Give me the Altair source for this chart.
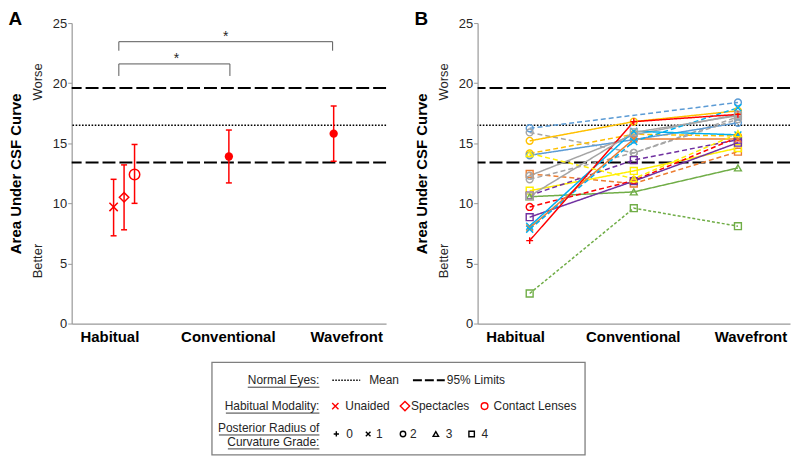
import altair as alt
import pandas as pd

FONT = "Liberation Sans"
RED = "#FF0000"
XPATH = "M-1,-1L1,1M-1,1L1,-1"
PLUSPATH = "M-1,0L1,0M0,-1L0,1"

# ---------------- shared ----------------
categories = ["Habitual", "Conventional", "Wavefront"]
cat_pos = [1, 2, 3]
label_pos = [0.86, 1.99, 3.12]
y_ticks = [0, 5, 10, 15, 20, 25]

ref_values = [19.6, 16.5, 13.4]
ref_kind = ["limit", "mean", "limit"]

side_text = ["Worse", "Better"]
side_y = [20.1, 5.2]

# ---------------- panel A ----------------
a_group = ["Unaided", "Spectacles", "Contact Lenses", "Conventional", "Wavefront"]
a_x = [0.9, 1.0, 1.1, 2.0, 3.0]
a_mean = [9.7, 10.5, 12.4, 13.9, 15.8]
a_low = [7.3, 7.8, 10.0, 11.7, 13.5]
a_high = [12.0, 13.2, 14.9, 16.1, 18.1]

bracket_id = [1, 1, 1, 1, 2, 2, 2, 2]
bracket_x = [0.95, 0.95, 2.01, 2.01, 0.95, 0.95, 2.99, 2.99]
bracket_y = [20.6, 21.6, 21.6, 20.6, 22.7, 23.45, 23.45, 22.7]
star_x = [1.5, 1.97]
star_y = [22.0, 23.85]

# ---------------- panel B (one entry per eye) ----------------
s_color = ["#5B9BD5", "#A5A5A5", "#FFC000", "#FFC000", "#5B9BD5", "#ED7D31", "#A5A5A5",
           "#A5A5A5", "#FFEF00", "#7030A0", "#70AD47", "#FF0000", "#7030A0", "#00B0F0",
           "#ED7D31", "#00B0F0", "#FF0000", "#70AD47", "#FFEF00", "#A5A5A5"]
s_dash = ["dashed", "dashed", "solid", "dashed", "solid", "dashed", "solid",
          "dashed", "solid", "dashed", "solid", "dashed", "solid", "solid",
          "solid", "dashed", "solid", "fine", "dashed", "solid"]
s_grade = [2, 2, 2, 2, 2, 4, 2, 2, 4, 4, 3, 2, 4, 1, 1, 1, 0, 4, 3, 4]
s_hab = [16.25, 15.9, 15.2, 14.15, 14.0, 12.45, 12.3, 12.0, 11.05, 10.65,
         10.55, 9.7, 8.85, 8.1, 7.95, 7.85, 6.9, 2.5, 14.15, 10.6]
s_conv = [None, 14.2, 16.8, 15.75, 15.3, 11.65, 15.7, 14.2, 12.7, 13.6,
          10.95, 11.9, 11.85, 16.0, 15.35, 15.15, 16.8, 9.6, 12.05, 15.9]
s_wave = [18.4, 17.2, 17.7, 15.6, 16.7, 14.3, 17.4, 17.0, 14.6, 15.3,
          12.95, 15.5, 15.05, 15.7, 15.35, 17.95, 17.4, 8.1, 15.8, 17.3]

grades = ["0", "1", "2", "3", "4"]
grade_shapes = [PLUSPATH, XPATH, "circle", "triangle-up", "square"]

W_A, W_B, H = 316, 314, 302

label_expr = (f"datum.value < 1.5 ? '{categories[0]}' : "
              f"datum.value < 2.5 ? '{categories[1]}' : '{categories[2]}'")


def x_enc(field="x"):
    return alt.X(f"{field}:Q",
                 scale=alt.Scale(domain=[0.5, 3.5], nice=False, zero=False),
                 axis=alt.Axis(values=label_pos, labelExpr=label_expr, title=None,
                               ticks=False, grid=False, labelFont=FONT, labelFontSize=15,
                               labelFontWeight="bold", labelColor="black", labelPadding=6,
                               labelFlush=False, labelOverlap=False,
                               domainColor="#999999", domainWidth=1.2))


def y_enc(field="y"):
    return alt.Y(f"{field}:Q",
                 scale=alt.Scale(domain=[0, 25], nice=False, zero=True),
                 axis=alt.Axis(values=y_ticks, title="Area Under CSF Curve", grid=False,
                               labelFont=FONT, labelFontSize=13, labelColor="#262626",
                               labelPadding=1, tickSize=4, tickColor="#999999",
                               domainColor="#999999", domainWidth=1.2,
                               titleFont=FONT, titleFontSize=15, titleFontWeight="bold",
                               titleColor="black", titlePadding=29))


ref_df = pd.DataFrame({"y": ref_values, "kind": ref_kind})
side_df = pd.DataFrame({"t": side_text, "y": side_y})


def common_layers():
    limits = alt.Chart(ref_df[ref_df["kind"] == "limit"]).mark_rule(
        color="black", strokeWidth=2, strokeDash=[13, 4]).encode(y=y_enc())
    mean = alt.Chart(ref_df[ref_df["kind"] == "mean"]).mark_rule(
        color="black", strokeWidth=1.6, strokeDash=[1.6, 1.6]).encode(y=y_enc())
    side = alt.Chart(side_df).mark_text(
        font=FONT, fontSize=13, angle=270, align="center", baseline="middle",
        color="#262626").encode(x=alt.value(-34), y=y_enc(), text="t:N")
    return [limits, mean, side]


# ---------------- build panel A ----------------
a_df = pd.DataFrame(dict(group=a_group, x=a_x, y=a_mean, lo=a_low, hi=a_high))
err = alt.Chart(a_df).mark_rule(color=RED, strokeWidth=1.5).encode(
    x=x_enc(), y=y_enc("lo"), y2="hi")
cap_lo = alt.Chart(a_df).mark_point(shape="stroke", color=RED, size=36, strokeWidth=1.5,
                                    opacity=1).encode(x=x_enc(), y=y_enc("lo"))
cap_hi = alt.Chart(a_df).mark_point(shape="stroke", color=RED, size=36, strokeWidth=1.5,
                                    opacity=1).encode(x=x_enc(), y=y_enc("hi"))
hollow = alt.Chart(a_df.iloc[:3]).mark_point(filled=False, color=RED, strokeWidth=1.5,
                                              opacity=1).encode(
    x=x_enc(), y=y_enc(),
    shape=alt.Shape("group:N", scale=alt.Scale(domain=a_group[:3],
                                               range=[XPATH, "diamond", "circle"]), legend=None),
    size=alt.Size("group:N", scale=alt.Scale(domain=a_group[:3], range=[70, 110, 75]),
                  legend=None))
filled = alt.Chart(a_df.iloc[3:]).mark_circle(color=RED, size=70, opacity=1).encode(
    x=x_enc(), y=y_enc())

br_df = pd.DataFrame(dict(b=bracket_id, x=bracket_x, y=bracket_y, i=list(range(len(bracket_x)))))
brackets = alt.Chart(br_df).mark_line(color="#595959", strokeWidth=1).encode(
    x=x_enc(), y=y_enc(), detail="b:N", order="i:Q")
stars = alt.Chart(pd.DataFrame(dict(x=star_x, y=star_y))).mark_text(
    text="*", font=FONT, fontSize=14, color="#262626", baseline="middle").encode(
    x=x_enc(), y=y_enc())

panel_a = alt.layer(*common_layers(), brackets, stars, err, cap_lo, cap_hi, hollow, filled).properties(
    width=W_A, height=H,
    title=alt.Title("A", anchor="start", frame="bounds", font=FONT, fontSize=19,
                    fontWeight="bold", color="black", offset=-12))

# ---------------- build panel B ----------------
rows = []
for i in range(len(s_color)):
    for pos, vals in zip(cat_pos, [s_hab, s_conv, s_wave]):
        v = vals[i]
        if v is None:
            continue
        rows.append(dict(series=f"s{i + 1:02d}", x=pos, y=v, color=s_color[i],
                         dash=s_dash[i], grade=str(s_grade[i])))
b_df = pd.DataFrame(rows)

b_lines = alt.Chart(b_df).mark_line(strokeWidth=1.5).encode(
    x=x_enc(), y=y_enc(),
    color=alt.Color("color:N", scale=None),
    strokeDash=alt.StrokeDash("dash:N", scale=alt.Scale(domain=["solid", "dashed", "fine"],
                                                        range=[[1, 0], [5, 3], [3, 2]]),
                              legend=None),
    detail="series:N")
b_points = alt.Chart(b_df).mark_point(filled=False, strokeWidth=1.4, size=48, opacity=1).encode(
    x=x_enc(), y=y_enc(),
    color=alt.Color("color:N", scale=None),
    shape=alt.Shape("grade:N", scale=alt.Scale(domain=grades, range=grade_shapes), legend=None))

panel_b = alt.layer(*common_layers(), b_lines, b_points).properties(
    width=W_B, height=H,
    title=alt.Title("B", anchor="start", frame="bounds", font=FONT, fontSize=19,
                    fontWeight="bold", color="black", offset=-12))

# ---------------- custom key ----------------
# positions inside the key box (pixels from the box's top-left corner)
BX, BY, BW, BH = 141, 1, 375, 93
LEG_W, LEG_H = 520, 95

head_text = ["Normal Eyes:", "Habitual Modality:", "Posterior Radius of", "Curvature Grade:"]
head_right = [108, 108, 108, 108]
head_y = [18, 44, 66, 80]
head_left = [36, 14, 7, 16]

item_text = ["Mean", "95% Limits", "Unaided", "Spectacles", "Contact Lenses",
             "0", "1", "2", "3", "4"]
item_x = [158, 236, 134, 200, 283, 135, 165, 199, 235, 271]
item_y = [18, 18, 44, 44, 44, 72, 72, 72, 72, 72]

sym_shape = [XPATH, "diamond", "circle", PLUSPATH, XPATH, "circle", "triangle-up", "square"]
sym_x = [124, 194, 274, 125, 157, 192, 225, 261]
sym_y = [44, 44, 44, 72, 72, 72, 72, 72]
sym_color = [RED, RED, RED, "black", "black", "black", "black", "black"]
sym_size = [40, 90, 45, 28, 22, 30, 30, 30]

key_line_x = [121, 202]
key_line_x2 = [149, 234]
key_line_kind = ["mean", "limit"]

heads = pd.DataFrame(dict(t=head_text, x=[BX + v for v in head_right], y=[BY + v for v in head_y]))
unders = pd.DataFrame(dict(x=[BX + v for v in head_left], x2=[BX + v for v in head_right],
                           y=[BY + v + 7 for v in head_y]))
items = pd.DataFrame(dict(t=item_text, x=[BX + v for v in item_x], y=[BY + v for v in item_y]))
syms = pd.DataFrame(dict(s=sym_shape, x=[BX + v for v in sym_x], y=[BY + v for v in sym_y],
                         c=sym_color, z=sym_size))
klines = pd.DataFrame(dict(x=[BX + v for v in key_line_x], x2=[BX + v for v in key_line_x2],
                           y=[BY + 18] * 2, kind=key_line_kind))

px = lambda f: alt.X(f"{f}:Q", scale=None, axis=None)
py = lambda f: alt.Y(f"{f}:Q", scale=None, axis=None)

box = alt.Chart(pd.DataFrame({"a": [0]})).mark_rect(
    fill="transparent", stroke="#7f7f7f", strokeWidth=1.3).encode(
    x=alt.value(BX), x2=alt.value(BX + BW), y=alt.value(BY), y2=alt.value(BY + BH))
head_l = alt.Chart(heads).mark_text(font=FONT, fontSize=12, align="right", baseline="middle",
                                    color="#262626").encode(x=px("x"), y=py("y"), text="t:N")
under_l = alt.Chart(unders).mark_rule(color="#262626", strokeWidth=0.9).encode(
    x=px("x"), x2="x2:Q", y=py("y"))
item_l = alt.Chart(items).mark_text(font=FONT, fontSize=12, align="left", baseline="middle",
                                    color="#262626").encode(x=px("x"), y=py("y"), text="t:N")
sym_l = alt.Chart(syms).mark_point(filled=False, strokeWidth=1.4, opacity=1).encode(
    x=px("x"), y=py("y"), shape=alt.Shape("s:N", scale=None),
    color=alt.Color("c:N", scale=None), size=alt.Size("z:Q", scale=None))
kmean = alt.Chart(klines[klines["kind"] == "mean"]).mark_rule(
    color="black", strokeWidth=1.3, strokeDash=[1.5, 1.5]).encode(x=px("x"), x2="x2:Q", y=py("y"))
klim = alt.Chart(klines[klines["kind"] == "limit"]).mark_rule(
    color="black", strokeWidth=1.8, strokeDash=[9, 3]).encode(x=px("x"), x2="x2:Q", y=py("y"))

key = alt.layer(box, head_l, under_l, item_l, sym_l, kmean, klim).properties(
    width=LEG_W, height=LEG_H)

top = alt.hconcat(panel_a, panel_b, spacing=26).resolve_scale(
    shape="independent", size="independent", color="independent", strokeDash="independent")

chart = alt.vconcat(top, key, spacing=15).resolve_scale(
    shape="independent", size="independent", color="independent", strokeDash="independent"
).properties(padding=0).configure(font=FONT).configure_view(stroke="transparent")

chart.save("out.html", embed_options={"renderer": "svg", "actions": False})
